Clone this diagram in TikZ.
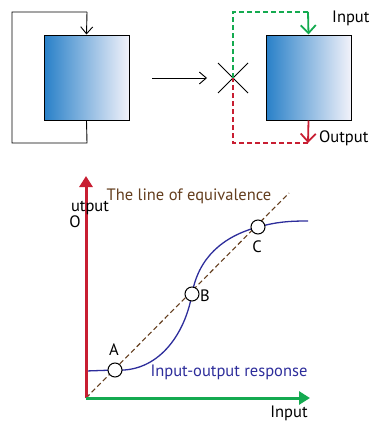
\documentclass[tikz,border=0pt]{standalone}
\usepackage{fontspec}
\setmainfont{PT Sans}
\usetikzlibrary{arrows.meta}
\definecolor{gstart}{RGB}{40,128,200}
\definecolor{gend}{RGB}{242,242,250}
\definecolor{ggreen}{RGB}{20,170,80}
\definecolor{gred}{RGB}{200,30,50}
\definecolor{gbrown}{RGB}{100,62,30}
\definecolor{gblue}{RGB}{45,45,155}
\tikzset{
  grad/.style={draw=black, line width=1pt, minimum width=85pt, minimum height=85pt, inner sep=0pt, left color=gstart, right color=gend, shading angle=90},
  blk/.style={line width=0.9pt},
  barb/.style={-{Straight Barb[length=7pt,width=12pt]}},
  cbarb/.style={-{Straight Barb[length=8pt,width=15pt]}},
  axis/.style={line width=3pt, -{Triangle[length=11pt,width=13pt]}},
  pt/.style={circle, draw=black, fill=white, line width=1pt, minimum size=14pt, inner sep=0pt},
  lbl/.style={font=\fontsize{16.5}{18}\selectfont, inner sep=0pt}
}
\begin{document}
\begin{tikzpicture}[x=1pt,y=-1pt]
\useasboundingbox (0,0) rectangle (370,423);
% top left
\node[grad] (box1) at (86.5,77.5) {};
\coordinate (l1) at (87,12);
\coordinate (l2) at (12,12);
\coordinate (l3) at (12,143);
\coordinate (l4) at (87,143);
\draw[blk] (box1.south) -- (l4) -- (l3) -- (l2) -- (l1);
\draw[blk,barb] (l1) -- (box1.north);
% arrow
\coordinate (a1) at (152,78);
\coordinate (a2) at (207,78);
\draw[blk,barb] (a1) -- (a2);
% cross
\coordinate (X) at (233,78);
\coordinate (x1) at (218,63);
\coordinate (x2) at (248,93);
\coordinate (x3) at (218,93);
\coordinate (x4) at (248,63);
\draw[blk] (x1) -- (x2) (x3) -- (x4);
% top right
\node[grad] (box2) at (308.5,77.5) {};
\coordinate (g1) at (233,12);
\coordinate (g2) at (308,12);
\coordinate (r1) at (308,143);
\coordinate (r2) at (233,143);
\draw[ggreen, line width=1.2pt, dash pattern=on 5pt off 3pt] (X) -- (g1) -- (g2);
\draw[ggreen, line width=1.8pt, cbarb] (g2) -- (box2.north);
\draw[gred, line width=1.2pt, dash pattern=on 5pt off 3pt] (r1) -- (r2) -- (X);
\draw[gred, line width=1.8pt, cbarb] (box2.south) -- (r1);
\node[lbl, anchor=west] (inlab) at (332,18) {Input};
\node[lbl, anchor=west] (outlab) at (319,138) {Output};
% graph
\coordinate (O) at (86,398);
\coordinate (ytip) at (86,176);
\coordinate (xtip) at (310,398);
\coordinate (eqend) at (289,193);
\coordinate (c0) at (86,371);
\coordinate (cend) at (308,221);
\draw[gbrown, line width=1.1pt, dash pattern=on 5pt off 3pt] (O) -- (eqend);
\draw[gblue, line width=1.3pt] (c0) -- (115,370) to[out=-4,in=-100] (192,294) to[out=80,in=195] (258,227) to[out=15,in=180] (cend);
\draw[gred, axis] (O) -- (ytip);
\draw[ggreen, axis] (O) -- (xtip);
\node[pt] (A) at (115,370) {};
\node[pt] (B) at (192,294) {};
\node[pt] (C) at (258,227) {};
\node[lbl] (Alab) at (114,350) {A};
\node[lbl] (Blab) at (205,296) {B};
\node[lbl] (Clab) at (257,247) {C};
\node[lbl, text=gbrown] (eqlab) at (189,196) {The line of equivalence};
\node[lbl, text=gblue] (resp) at (229,372) {Input-output response};
\node[lbl] (ut) at (90,208) {utput};
\node[lbl] (Ol) at (75,222) {O};
\node[lbl] (inx) at (289,413) {Input};
\end{tikzpicture}
\end{document}
